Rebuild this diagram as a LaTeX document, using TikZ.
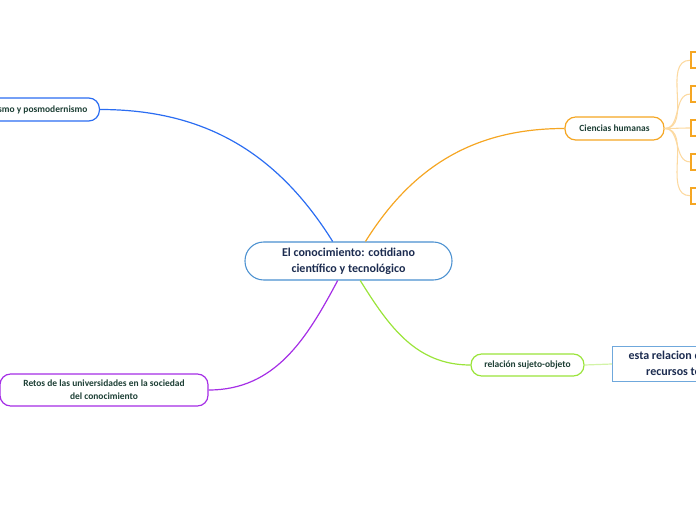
\documentclass[tikz,border=0pt]{standalone}
\usepackage{fontspec}
\setmainfont{Carlito}
\usepackage{xcolor}
\definecolor{mmnavy}{HTML}{1C2C50}
\definecolor{mmtext}{HTML}{1D3F35}
\definecolor{mmcore}{HTML}{4A90D0}
\definecolor{mmblue}{HTML}{2B6DF2}
\definecolor{mmorange}{HTML}{F5A623}
\definecolor{mmpale}{HTML}{FCD9A0}
\definecolor{mmgreen}{HTML}{9AE43A}
\definecolor{mmpurple}{HTML}{A52EE6}
\definecolor{mmsky}{HTML}{6FA8DC}
\usetikzlibrary{arrows.meta,positioning}

\begin{document}
\begin{tikzpicture}[x=0.75pt,y=-0.75pt,node distance=12pt]
\tikzset{
 core/.style={draw=mmcore,line width=0.8pt,rounded corners=14pt,fill=white,minimum width=155.25pt,minimum height=28.5pt,align=center,text=mmnavy,font=\bfseries\fontsize{9}{12}\selectfont},
 br/.style={draw=#1,line width=0.9pt,rounded corners=8pt,fill=white,minimum height=17.25pt,align=center,text=mmtext,font=\bfseries\fontsize{7.1}{10}\selectfont},
 leaf/.style={draw=mmorange,line width=1.4pt,fill=white,minimum width=30pt,minimum height=12pt},
 note/.style={draw=mmsky,line width=0.9pt,fill=white,minimum height=25.5pt,inner xsep=12pt,align=center,text=mmnavy,font=\bfseries\fontsize{9}{12}\selectfont},
 a/.style={line width=0.9pt}
}
\useasboundingbox (0,0) rectangle (696,520);
\clip (0,0) rectangle (696,520);
% centre
\node[core] (cen) at (348.5,261) {El conocimiento: cotidiano\\ científico y tecnológico};
% branches
\node[br=mmblue,anchor=east,inner xsep=9pt] (mod) at (100,109.5) {Modernismo y posmodernismo};
\node[br=mmorange,minimum width=74.25pt] (hum) at (614.5,128.5) {Ciencias humanas};
\node[br=mmgreen,minimum width=84.75pt,minimum height=16.5pt] (rel) at (527.5,365) {relación sujeto-objeto};
\node[br=mmpurple,minimum width=156pt,minimum height=24pt] (ret) at (104,390) {Retos de las universidades en la sociedad\\ del conocimiento};
\node[note,anchor=west] (rec) at (612,364) {esta relacion depende de los\\ recursos tecnológicos};
% small boxes
\node[leaf,anchor=west] (h3) at (690,128) {};
\node[leaf,above=of h3] (h2) {};
\node[leaf,above=of h2] (h1) {};
\node[leaf,below=of h3] (h4) {};
\node[leaf,below=of h4] (h5) {};
% connectors
\draw[a,mmblue] (cen.129) to[out=122,in=0] (mod.east);
\draw[a,mmorange] (cen.49) to[out=58,in=180] (hum.west);
\draw[a,mmgreen] (cen.301) to[out=-58,in=180] (rel.west);
\draw[a,mmpurple] (cen.241) to[out=-118,in=0] (ret.east);
\draw[a,mmgreen!45] (rel.east) -- (rec.west);
\foreach \k in {h1,h2,h3,h4,h5}
 \draw[mmpale,line width=0.8pt] (hum.east) to[out=0,in=180] (\k.west);
\end{tikzpicture}
\end{document}
